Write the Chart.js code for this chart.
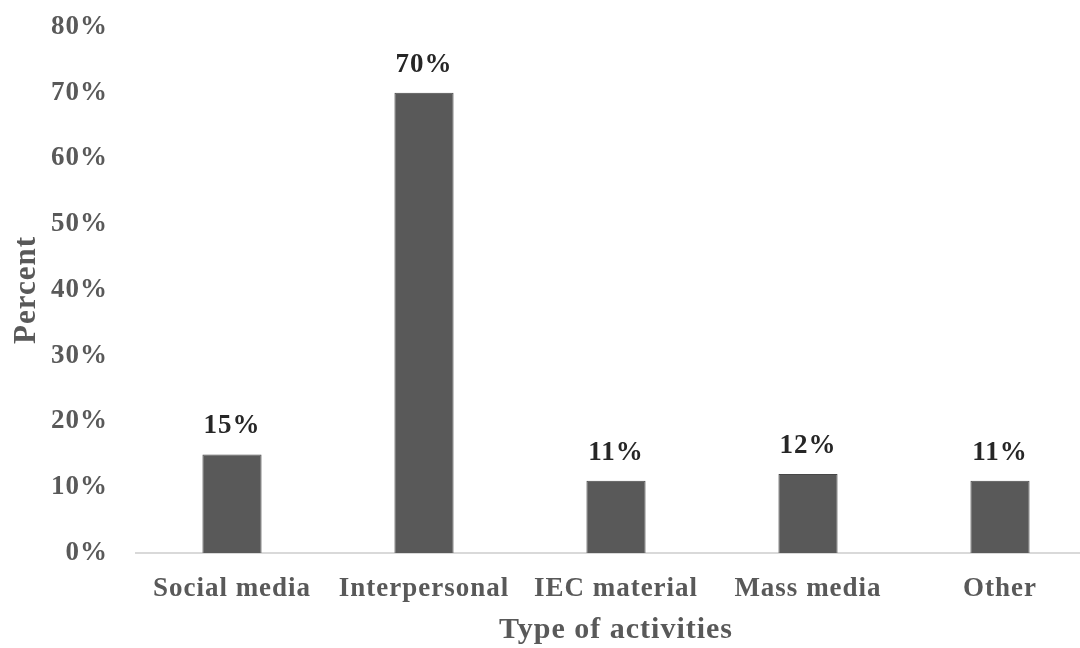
<!DOCTYPE html>
<html>
<head>
<meta charset="utf-8">
<script src="https://cdn.jsdelivr.net/npm/chart.js@4"></script>
<style>
  html, body { margin: 0; padding: 0; background: #ffffff; overflow: hidden; }
  #wrap { position: absolute; left: 0; top: 0; width: 1096px; height: 648px; }
</style>
</head>
<body>
<div id="wrap"><canvas id="chart" width="1096" height="648"></canvas></div>
<script>
// Share of respondents by type of activity
const categories = ['Social media', 'Interpersonal', 'IEC material', 'Mass media', 'Other'];
const percentValues = [15, 70, 11, 12, 11];
const yTickMax = 80;
const yTickStep = 10;

const serif = '"Liberation Serif", "Times New Roman", serif';

// Slightly open letter spacing for all chart text
const textSpacing = {
  id: 'textSpacing',
  beforeLayout(chart) { chart.ctx.letterSpacing = '1px'; },
  beforeDraw(chart) { chart.ctx.letterSpacing = '1px'; }
};

// Writes each bar's value above it
const valueLabels = {
  id: 'valueLabels',
  afterDatasetsDraw(chart) {
    const ctx = chart.ctx;
    const meta = chart.getDatasetMeta(0);
    ctx.save();
    ctx.font = 'bold 27px ' + serif;
    ctx.fillStyle = '#262626';
    ctx.textAlign = 'center';
    ctx.textBaseline = 'alphabetic';
    meta.data.forEach((bar, i) => {
      ctx.fillText(percentValues[i] + '%', bar.x, bar.y - 21);
    });
    ctx.restore();
  }
};

new Chart(document.getElementById('chart'), {
  type: 'bar',
  data: {
    labels: categories,
    datasets: [{
      data: percentValues,
      backgroundColor: '#595959',
      borderColor: '#474747',
      borderWidth: 1,
      barPercentage: 0.308,
      categoryPercentage: 1.0
    }]
  },
  options: {
    responsive: false,
    animation: false,
    layout: { padding: { top: 27, right: 0, bottom: 0, left: 0 } },
    plugins: {
      legend: { display: false },
      tooltip: { enabled: false }
    },
    scales: {
      x: {
        grid: { display: false, drawTicks: false },
        border: { display: true, color: '#d9d9d9', width: 2 },
        ticks: {
          color: '#595959',
          padding: 20,
          maxRotation: 0,
          font: { family: serif, size: 27, weight: 'bold' }
        },
        title: {
          display: true,
          text: 'Type of activities',
          color: '#595959',
          padding: { top: 0, bottom: 0 },
          font: { family: serif, size: 30, weight: 'bold' }
        },
        afterFit(scale) { scale.height = 95; }
      },
      y: {
        min: 0,
        max: yTickMax,
        grid: { display: false, drawTicks: false },
        border: { display: false },
        ticks: {
          stepSize: yTickStep,
          color: '#595959',
          padding: 28,
          font: { family: serif, size: 27, weight: 'bold' },
          callback: (v) => v + '%'
        },
        title: {
          display: true,
          text: 'Percent',
          color: '#595959',
          padding: { top: 8, bottom: 0 },
          font: { family: serif, size: 31, weight: 'bold' }
        },
        afterFit(scale) {
          scale.width = 136;
          scale.paddingTop = 0;
          scale.paddingBottom = 0;
        }
      }
    }
  },
  plugins: [textSpacing, valueLabels]
});
</script>
</body>
</html>
